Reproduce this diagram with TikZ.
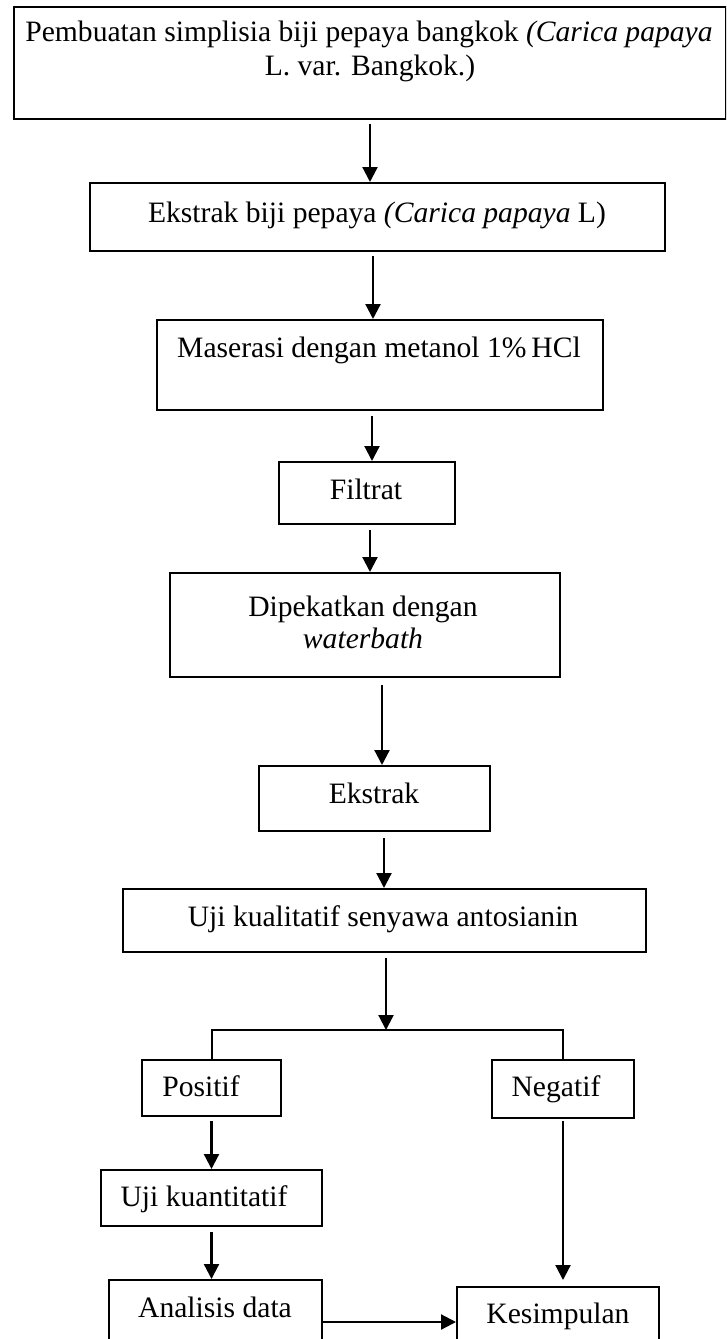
\documentclass[tikz,border=0pt]{standalone}
\usepackage{fontspec}
\setmainfont{Liberation Serif}
\usetikzlibrary{arrows.meta}
\begin{document}
\begin{tikzpicture}[x=1pt,y=-1pt,
  box/.style={draw, line width=2pt, inner sep=0pt, anchor=north west},
  txt/.style={anchor=base, inner sep=0pt, font=\fontsize{29.6}{34}\selectfont},
  arr/.style={line width=2.2pt, -{Triangle[width=15pt,length=15pt]}},
  ln/.style={line width=2pt}]
\useasboundingbox (0,0) rectangle (726,1339);
\clip (0,0) rectangle (726,1339);
% boxes
\node[box, minimum width=712pt, minimum height=112pt] (top) at (13,6) {};
\node[box, minimum width=575pt, minimum height=68pt] (box2) at (89,182) {};
\node[box, minimum width=446pt, minimum height=90pt] (box3) at (156,319) {};
\node[box, minimum width=176pt, minimum height=62pt] (filtrat) at (278,461) {};
\node[box, minimum width=390pt, minimum height=104pt] (dipek) at (169,572) {};
\node[box, minimum width=231pt, minimum height=65pt] (ekstrak) at (258,765) {};
\node[box, minimum width=523pt, minimum height=63pt] (ujikual) at (122,888) {};
\node[box, minimum width=139pt, minimum height=56pt] (positif) at (141,1059) {};
\node[box, minimum width=142pt, minimum height=58pt] (negatif) at (491,1059) {};
\node[box, minimum width=221pt, minimum height=56pt] (ujikuan) at (100,1169) {};
\node[box, minimum width=213pt, minimum height=80pt] (analisis) at (108,1279) {};
\node[box, minimum width=202pt, minimum height=80pt] (kesimpulan) at (456,1286) {};
% texts
\node[txt] (t1a) at (369,41) {Pembuatan simplisia biji pepaya bangkok \textit{(Carica papaya}};
\node[txt] (t1b) at (370,75) {L. var. Bangkok.)};
\node[txt] (t2) at (377,222) {Ekstrak biji pepaya \textit{(Carica papaya} L)};
\node[txt] (t3) at (379,357) {Maserasi dengan metanol 1\%\,HCl};
\node[txt] (t4) at (366,499) {Filtrat};
\node[txt] (t5a) at (363,616) {Dipekatkan dengan};
\node[txt] (t5b) at (363,648) {\textit{waterbath}};
\node[txt] (t6) at (374,803) {Ekstrak};
\node[txt] (t7) at (383,926) {Uji kualitatif senyawa antosianin};
\node[txt] (t8) at (201,1096) {Positif};
\node[txt] (t9) at (556,1096) {Negatif};
\node[txt] (t10) at (204,1206) {Uji kuantitatif};
\node[txt] (t11) at (215,1317) {Analisis data};
\node[txt] (t12) at (558,1323) {Kesimpulan};
% connectors
\coordinate (br) at (386,1030);
\coordinate (ak) at (0,1322);
\draw[arr, shorten <=4pt] (top.south -| 370,0) -- (box2.north -| 370,0);
\draw[arr, shorten <=4pt] (box2.south -| 373,0) -- (box3.north -| 373,0);
\draw[arr, shorten <=5pt] (box3.south -| 372,0) -- (filtrat.north -| 372,0);
\draw[arr, shorten <=5pt] (filtrat.south -| 370,0) -- (dipek.north -| 370,0);
\draw[arr, shorten <=7pt] (dipek.south -| 382,0) -- (ekstrak.north -| 382,0);
\draw[arr, shorten <=6pt] (ekstrak.south -| 384,0) -- (ujikual.north -| 384,0);
\draw[arr, shorten <=5pt] (ujikual.south -| br) -- (br);
\draw[ln] (positif.north) -- (positif.north |- br) -- (negatif.north |- br) -- (negatif.north);
\draw[arr, shorten <=4pt] (positif.south) -- (positif.south |- ujikuan.north);
\draw[arr, shorten <=5pt] (ujikuan.south) -- (ujikuan.south |- analisis.north);
\draw[arr, shorten <=2pt, shorten >=6pt] (negatif.south) -- (negatif.south |- kesimpulan.north);
\draw[arr] (analisis.east |- ak) -- (kesimpulan.west |- ak);
\end{tikzpicture}
\end{document}
